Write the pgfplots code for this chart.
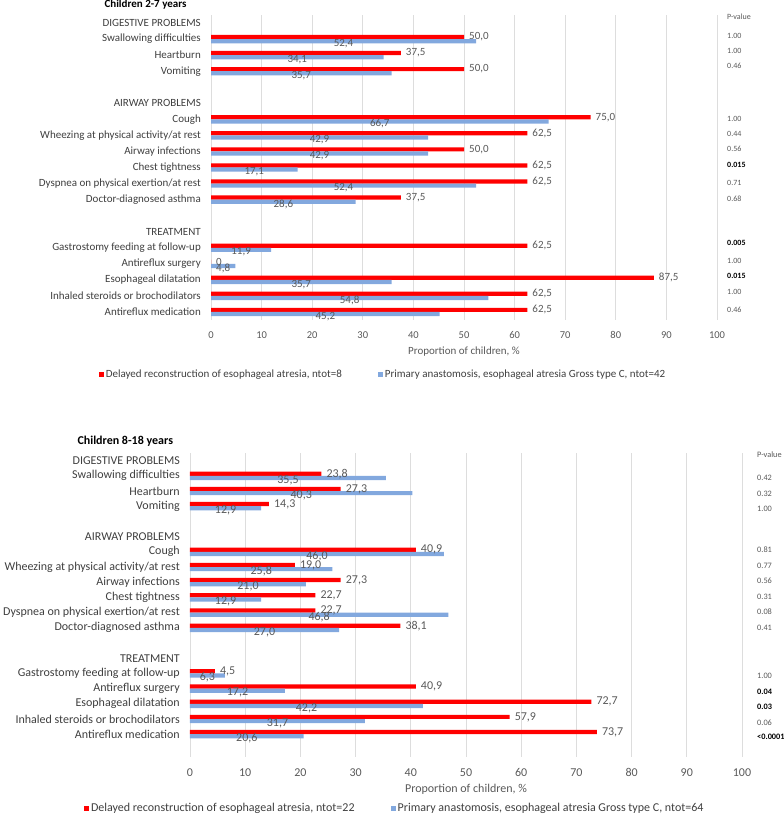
\documentclass[border=0pt]{standalone}
\usepackage{fontspec}
\setmainfont{Carlito}
\usepackage{pgfplots}
\usepackage{pgfplotstable}
\pgfplotsset{compat=1.18}

\definecolor{cred}{HTML}{FF0000}
\definecolor{cblue}{HTML}{82A8DE}
\definecolor{lblgray}{HTML}{595959}
\definecolor{txtgray}{HTML}{3F3F3F}
\definecolor{gridgray}{HTML}{DDDDDD}

% row  red  blue  labels (red, blue)
\pgfplotstableread{
row red  blue rl   bl
1   50.0 52.4 50,0 52,4
2   37.5 34.1 37,5 34,1
3   50.0 35.7 50,0 35,7
6   75.0 66.7 75,0 66,7
7   62.5 42.9 62,5 42,9
8   50.0 42.9 50,0 42,9
9   62.5 17.1 62,5 17,1
10  62.5 52.4 62,5 52,4
11  37.5 28.6 37,5 28,6
14  62.5 11.9 62,5 11,9
15  0    4.8  0    4,8
16  87.5 35.7 87,5 35,7
17  62.5 54.8 62,5 54,8
18  62.5 45.2 62,5 45,2
}\younger

\pgfplotstableread{
row red  blue rl   bl
1   23.8 35.5 23,8 35,5
2   27.3 40.3 27,3 40,3
3   14.3 12.9 14,3 12,9
6   40.9 46.0 40,9 46,0
7   19.0 25.8 19,0 25,8
8   27.3 21.0 27,3 21,0
9   22.7 12.9 22,7 12,9
10  22.7 46.8 22,7 46,8
11  38.1 27.0 38,1 27,0
14  4.5  6.3  4,5  6,3
15  40.9 17.2 40,9 17,2
16  72.7 42.2 72,7 42,2
17  57.9 31.7 57,9 31,7
18  73.7 20.6 73,7 20,6
}\older

\pgfplotsset{
  eachart/.style={
    scale only axis, clip=false,
    /pgf/number format/assume math mode=true,
    xmin=0, xmax=100, ymin=-0.5, y dir=reverse,
    axis line style={draw=none},
    tick style={draw=none},
    xmajorgrids, grid style={gridgray, line width=0.8pt},
    xtick={0,10,...,100},
    ytick={0,...,18},
    yticklabels={DIGESTIVE PROBLEMS, Swallowing difficulties, Heartburn, Vomiting, {},
      AIRWAY PROBLEMS, Cough, Wheezing at physical activity/at rest, Airway infections,
      Chest tightness, Dyspnea on physical exertion/at rest, Doctor-diagnosed asthma, {},
      TREATMENT, Gastrostomy feeding at follow-up, Antireflux surgery, Esophageal dilatation,
      Inhaled steroids or brochodilators, Antireflux medication},
    y tick label style={text=txtgray, inner sep=0pt, xshift=-10pt},
    x tick label style={text=lblgray, yshift=-8pt},
    xlabel={Proportion of children, \%},
    xlabel style={at={(axis description cs:0.5,0)}, anchor=center, yshift=-32pt, text=lblgray},
    legend style={draw=none, fill=none, legend columns=2, text=txtgray,
      /tikz/every even column/.append style={column sep=34pt}},
    legend image code/.code={\fill[##1] (0pt,-2.5pt) rectangle (5pt,2.5pt);},
  },
}

\begin{document}
\begin{tikzpicture}
\useasboundingbox (0,0) rectangle (784pt,-819pt);

% ---------- Children 2-7 years ----------
\node[anchor=west, font=\fontsize{11}{13}\selectfont\bfseries] at (101pt,-5pt) {Children 2-7 years};
\begin{axis}[eachart,
  anchor=south west, at={(211pt,-320pt)},
  width=506pt, height=305pt, ymax=18.5,
  font=\fontsize{11}{13}\selectfont,
  x tick label style={font=\fontsize{10.5}{12}\selectfont},
  legend style={at={(axis description cs:0.34,-0.18)}, anchor=center},
]
\addplot[xbar, bar width=4.2pt, bar shift=0pt, fill=cred, draw=none]
  table[x=red, y expr=\thisrow{row}-0.13] {\younger};
\addlegendentry{Delayed reconstruction of esophageal atresia, ntot=8}
\addplot[xbar, bar width=4.2pt, bar shift=0pt, fill=cblue, draw=none]
  table[x=blue, y expr=\thisrow{row}+0.13] {\younger};
\addlegendentry{Primary anastomosis, esophageal atresia Gross type C, ntot=42}
\addplot[draw=none, mark=none, forget plot, nodes near coords, point meta=explicit symbolic,
  nodes near coords style={anchor=west, inner sep=0pt, xshift=5pt, text=lblgray}]
  table[x=red, y expr=\thisrow{row}-0.13, meta=rl] {\younger};
\addplot[draw=none, mark=none, forget plot, nodes near coords, point meta=explicit symbolic,
  nodes near coords style={anchor=center, inner sep=0pt, text=lblgray}]
  table[x expr=\thisrow{blue}/2, y expr=\thisrow{row}+0.27, meta=bl] {\younger};
\end{axis}

\begin{scope}[every node/.style={anchor=west, text=lblgray, inner sep=0pt, font=\fontsize{8}{9}\selectfont}]
\node at (727pt,-17pt) {P-value};
\node at (727pt,-36pt) {1.00};
\node at (727pt,-51pt) {1.00};
\node at (727pt,-66pt) {0.46};
\node at (727pt,-119pt) {1.00};
\node at (727pt,-134pt) {0.44};
\node at (727pt,-149pt) {0.56};
\node[text=black, font=\fontsize{8}{9}\selectfont\bfseries] at (727pt,-165pt) {0.015};
\node at (727pt,-183pt) {0.71};
\node at (727pt,-199pt) {0.68};
\node[text=black, font=\fontsize{8}{9}\selectfont\bfseries] at (727pt,-243pt) {0.005};
\node at (727pt,-261pt) {1.00};
\node[text=black, font=\fontsize{8}{9}\selectfont\bfseries] at (727pt,-276pt) {0.015};
\node at (727pt,-292pt) {1.00};
\node at (727pt,-310pt) {0.46};
\end{scope}

% ---------- Children 8-18 years ----------
\node[anchor=west, font=\fontsize{12}{14}\selectfont\bfseries] at (74pt,-441pt) {Children 8-18 years};
\begin{axis}[eachart,
  anchor=south west, at={(190pt,-757pt)},
  width=552pt, height=304pt, ymax=19.5,
  font=\fontsize{12}{14}\selectfont,
  x tick label style={font=\fontsize{12}{14}\selectfont},
  legend style={at={(axis description cs:0.371,-0.168)}, anchor=center},
]
\addplot[xbar, bar width=4.2pt, bar shift=0pt, fill=cred, draw=none]
  table[x=red, y expr=\thisrow{row}-0.14] {\older};
\addlegendentry{Delayed reconstruction of esophageal atresia, ntot=22}
\addplot[xbar, bar width=4.2pt, bar shift=0pt, fill=cblue, draw=none]
  table[x=blue, y expr=\thisrow{row}+0.14] {\older};
\addlegendentry{Primary anastomosis, esophageal atresia Gross type C, ntot=64}
\addplot[draw=none, mark=none, forget plot, nodes near coords, point meta=explicit symbolic,
  nodes near coords style={anchor=west, inner sep=0pt, xshift=5pt, text=lblgray}]
  table[x=red, y expr=\thisrow{row}-0.14, meta=rl] {\older};
\addplot[draw=none, mark=none, forget plot, nodes near coords, point meta=explicit symbolic,
  nodes near coords style={anchor=center, inner sep=0pt, text=lblgray}]
  table[x expr=\thisrow{blue}/2, y expr=\thisrow{row}+0.28, meta=bl] {\older};
\end{axis}

\begin{scope}[every node/.style={anchor=west, text=lblgray, inner sep=0pt, font=\fontsize{8.3}{9}\selectfont}]
\node at (757pt,-455pt) {P-value};
\node at (757pt,-478pt) {0.42};
\node at (757pt,-494pt) {0.32};
\node at (757pt,-509pt) {1.00};
\node at (757pt,-550pt) {0.81};
\node at (757pt,-566pt) {0.77};
\node at (757pt,-581pt) {0.56};
\node at (757pt,-597pt) {0.31};
\node at (757pt,-612pt) {0.08};
\node at (757pt,-628pt) {0.41};
\node at (757pt,-676pt) {1.00};
\node[text=black, font=\fontsize{8.3}{9}\selectfont\bfseries] at (757pt,-692pt) {0.04};
\node[text=black, font=\fontsize{8.3}{9}\selectfont\bfseries] at (757pt,-707pt) {0.03};
\node at (757pt,-723pt) {0.06};
\node[text=black, font=\fontsize{8.3}{9}\selectfont\bfseries] at (757pt,-737pt) {<0.0001};
\end{scope}
\end{tikzpicture}
\end{document}
